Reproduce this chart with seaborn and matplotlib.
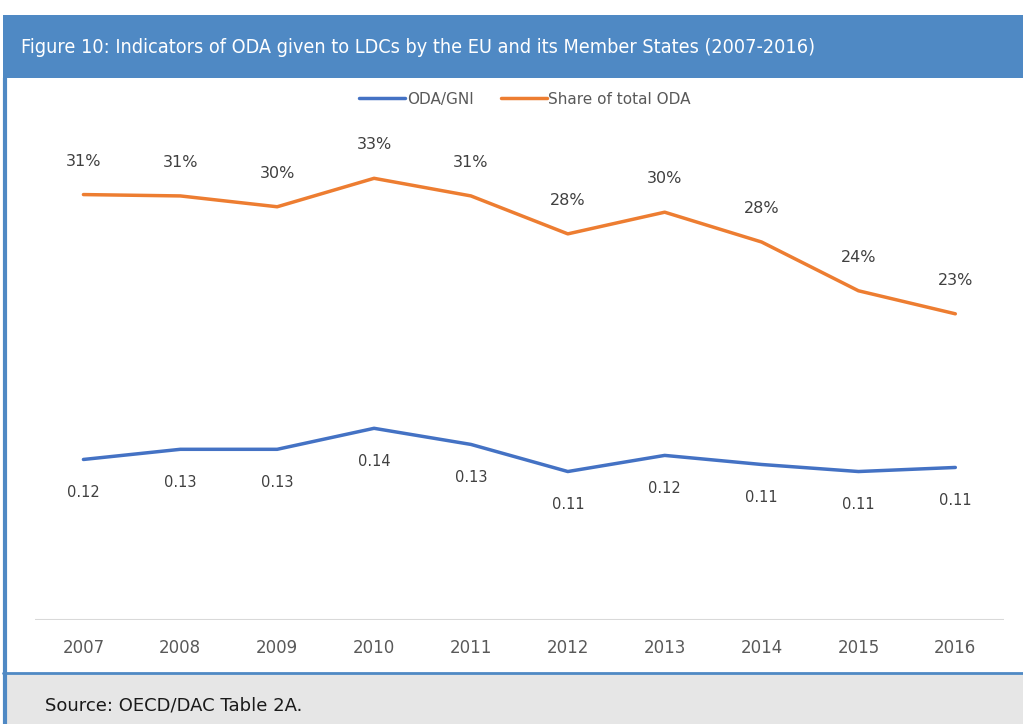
import pandas as pd
import matplotlib.pyplot as plt
import seaborn as sns
from matplotlib.patches import Rectangle
from matplotlib.lines import Line2D

# Data
years = ["2007", "2008", "2009", "2010", "2011", "2012", "2013", "2014", "2015", "2016"]
oda_gni = [0.1185, 0.126, 0.126, 0.1415, 0.1296, 0.1096, 0.1215, 0.1148, 0.1096, 0.1126]
share_total = [31.4, 31.3, 30.5, 32.6, 31.3, 28.5, 30.1, 27.9, 24.3, 22.6]
gni_labels = ["0.12", "0.13", "0.13", "0.14", "0.13", "0.11", "0.12", "0.11", "0.11", "0.11"]
share_labels = ["31%", "31%", "30%", "33%", "31%", "28%", "30%", "28%", "24%", "23%"]

BLUE = "#4472C4"
ORANGE = "#ED7D31"
GREY_TXT = "#595959"

df = pd.DataFrame({"year": years, "oda_gni": oda_gni, "share": share_total})
df["x"] = range(len(years))

sns.set_style("white")
plt.rcParams["font.family"] = ["DejaVu Sans"]

fig = plt.figure(figsize=(10.23, 7.24), dpi=100)

# title banner and footer
fig.patches.append(Rectangle((0.003, 0.8923), 0.997, 0.087, transform=fig.transFigure,
                             facecolor="#4F89C4", edgecolor="none", zorder=0))
fig.patches.append(Rectangle((0.003, 0.0), 0.997, 0.0705, transform=fig.transFigure,
                             facecolor="#E6E6E6", edgecolor="none", zorder=0))
fig.lines.append(Line2D([0.003, 1.0], [0.0705, 0.0705], transform=fig.transFigure,
                        color="#4F89C4", lw=2))
fig.lines.append(Line2D([0.005, 0.005], [0.0, 0.8923], transform=fig.transFigure,
                        color="#4F89C4", lw=3))
fig.text(0.021, 0.934, "Figure 10: Indicators of ODA given to LDCs by the EU and its Member States (2007-2016)",
         color="white", fontsize=14.2, va="center", ha="left", fontstretch="condensed")
fig.text(0.044, 0.025, "Source: OECD/DAC Table 2A.", color="#1a1a1a", fontsize=13, va="center", ha="left")

ax = fig.add_axes([0.0342, 0.1436, 0.947, 0.7486])
ax2 = ax.twinx()

sns.lineplot(data=df, x="x", y="share", ax=ax, color=ORANGE, lw=2.5, label="Share of total ODA", legend=False)
sns.lineplot(data=df, x="x", y="oda_gni", ax=ax2, color=BLUE, lw=2.5, label="ODA/GNI", legend=False)

ax.set_ylim(0, 40)
ax2.set_ylim(0, 0.4)
ax.set_xlim(-0.5, len(years) - 0.5)

for i, (v, t) in enumerate(zip(share_total, share_labels)):
    ax.annotate(t, (i, v), xytext=(0, 24), textcoords="offset points", ha="center", va="center",
                color="#404040", fontsize=11.5)
for i, (v, t) in enumerate(zip(oda_gni, gni_labels)):
    ax2.annotate(t, (i, v), xytext=(0, -24), textcoords="offset points", ha="center", va="center",
                 color="#404040", fontsize=10.5)

for a in (ax, ax2):
    for s in a.spines.values():
        s.set_visible(False)
    a.set_yticks([])
    a.set_ylabel("")
    a.set_xlabel("")
    a.patch.set_alpha(0)

ax.axhline(0, color="#D9D9D9", lw=1.5)
ax.set_xticks(df["x"])
ax.set_xticklabels(years, color=GREY_TXT, fontsize=12)
ax.tick_params(axis="x", length=0, pad=14)

handles = [Line2D([], [], color=BLUE, lw=2.5), Line2D([], [], color=ORANGE, lw=2.5)]
leg = ax.legend(handles, ["ODA/GNI", "Share of total ODA"], loc="upper center", bbox_to_anchor=(0.506, 1.0),
                ncol=2, frameon=False, fontsize=11, handlelength=3, handletextpad=0.1, columnspacing=1.8)
for t in leg.get_texts():
    t.set_color(GREY_TXT)

plt.savefig("out.png", dpi=100)
plt.close()
